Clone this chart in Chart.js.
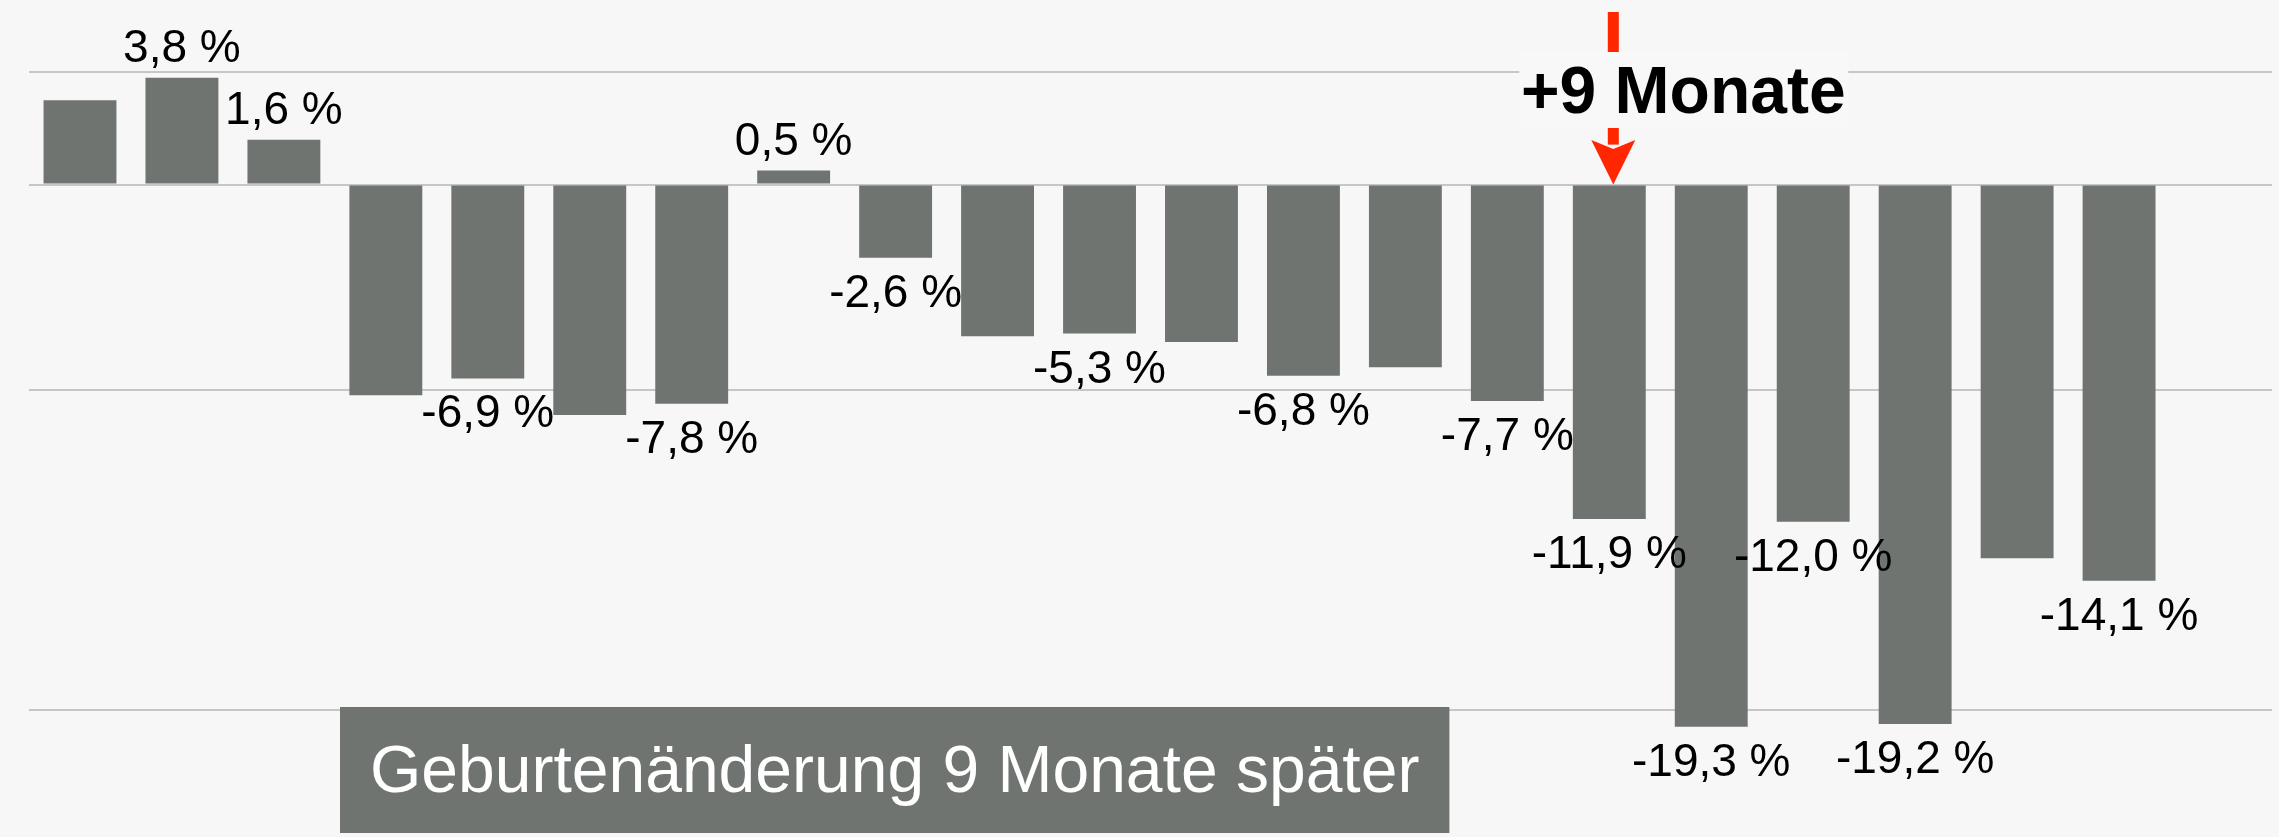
<!DOCTYPE html>
<html>
<head>
<meta charset="utf-8">
<script src="https://cdn.jsdelivr.net/npm/chart.js@4.4.1/dist/chart.umd.min.js"></script>
<style>
  body { margin: 0; background: #f7f7f7; }
  #wrap { width: 2279px; height: 837px; position: relative; }
</style>
</head>
<body>
<div id="wrap"><canvas id="mycanvas"></canvas></div>
<script>
// Monate (Beschriftung im Original oben abgeschnitten)
var months = ['1','2','3','4','5','6','7','8','9','10','11','12','13','14','15','16','17','18','19','20','21','22'];
// Geburtenänderung in %
var change = [3.0, 3.8, 1.6, -7.5, -6.9, -8.2, -7.8, 0.5, -2.6, -5.4, -5.3, -5.6, -6.8, -6.5, -7.7, -11.9, -19.3, -12.0, -19.2, -13.3, -14.1, null];
// welche Balken einen Wert tragen
var labelled = [false, true, true, false, true, false, true, true, true, false, true, false, true, false, true, true, true, true, true, false, true, false];
// Hilfslinien
var gridValues = [4, 0, -7.3, -18.7];

var barColor = '#6f7471';
var arrowBar = 15;

function fmt(v) {
	return v.toFixed(1).replace('.', ',') + ' %';
}

var background = {
	id: 'background',
	beforeDraw: function(chart) {
		var ctx = chart.ctx;
		ctx.save();
		ctx.fillStyle = '#f7f7f7';
		ctx.fillRect(0, 0, chart.width, chart.height);
		ctx.restore();
	}
};

var valueLabels = {
	id: 'valueLabels',
	afterDatasetsDraw: function(chart) {
		var ctx = chart.ctx;
		var meta = chart.getDatasetMeta(0);
		ctx.save();
		ctx.font = '46px "Liberation Sans", Arial, sans-serif';
		ctx.fillStyle = '#000';
		ctx.textAlign = 'center';
		ctx.textBaseline = 'alphabetic';
		meta.data.forEach(function(bar, i) {
			var v = change[i];
			if (v === null || !labelled[i]) return;
			if (v >= 0) {
				ctx.fillText(fmt(v), bar.x, bar.y - 16);
			} else {
				ctx.fillText(fmt(v), bar.x, bar.y + 49);
			}
		});
		ctx.restore();
	}
};

var annotations = {
	id: 'annotations',
	afterDraw: function(chart) {
		var ctx = chart.ctx;
		var bar = chart.getDatasetMeta(0).data[arrowBar];
		var x = bar.x + 4;
		var zero = chart.scales.y.getPixelForValue(0);
		ctx.save();
		// roter Pfeil
		ctx.fillStyle = '#ff2600';
		ctx.fillRect(x - 5.5, 12, 11, zero - 12 - 40);
		ctx.beginPath();
		ctx.moveTo(x - 22, 140);
		ctx.lineTo(x, 149);
		ctx.lineTo(x + 22, 140);
		ctx.lineTo(x, zero);
		ctx.closePath();
		ctx.fill();
		// Textkasten
		ctx.fillStyle = '#f8f8f8';
		ctx.fillRect(x - 94, 52, 329, 76);
		ctx.fillStyle = '#000';
		ctx.font = 'bold 66px "Liberation Sans", Arial, sans-serif';
		ctx.textAlign = 'center';
		ctx.fillText('+9 Monate', x + 70, 113);

		// Legende unten
		var caption = 'Geburtenänderung 9 Monate später';
		ctx.font = '66px "Liberation Sans", Arial, sans-serif';
		var w = ctx.measureText(caption).width;
		ctx.fillStyle = barColor;
		ctx.fillRect(340, 707, w + 60, 126);
		ctx.fillStyle = '#fff';
		ctx.textAlign = 'left';
		ctx.fillText(caption, 370, 792);
		ctx.restore();
	}
};

var ctx = document.getElementById('mycanvas');

var barGraph = new Chart(ctx, {
	type: 'bar',
	data: {
		labels: months,
		datasets: [
			{
				label: 'Geburtenänderung 9 Monate später',
				backgroundColor: barColor,
				hoverBackgroundColor: barColor,
				borderWidth: 0,
				data: change,
				categoryPercentage: 1.0,
				barPercentage: 0.715
			}
		]
	},
	options: {
		responsive: true,
		maintainAspectRatio: false,
		animation: false,
		events: [],
		layout: { padding: { left: 29, right: 7, top: 0, bottom: 0 } },
		plugins: {
			legend: { display: false },
			tooltip: { enabled: false }
		},
		scales: {
			x: {
				display: false
			},
			y: {
				min: -23.22,
				max: 6.57,
				border: { display: false },
				grid: { color: '#c6c6c6', lineWidth: 2, drawTicks: false },
				ticks: { display: false },
				afterBuildTicks: function(axis) {
					axis.ticks = gridValues.map(function(v) { return { value: v }; });
				}
			}
		}
	},
	plugins: [background, valueLabels, annotations]
});
</script>
</body>
</html>
